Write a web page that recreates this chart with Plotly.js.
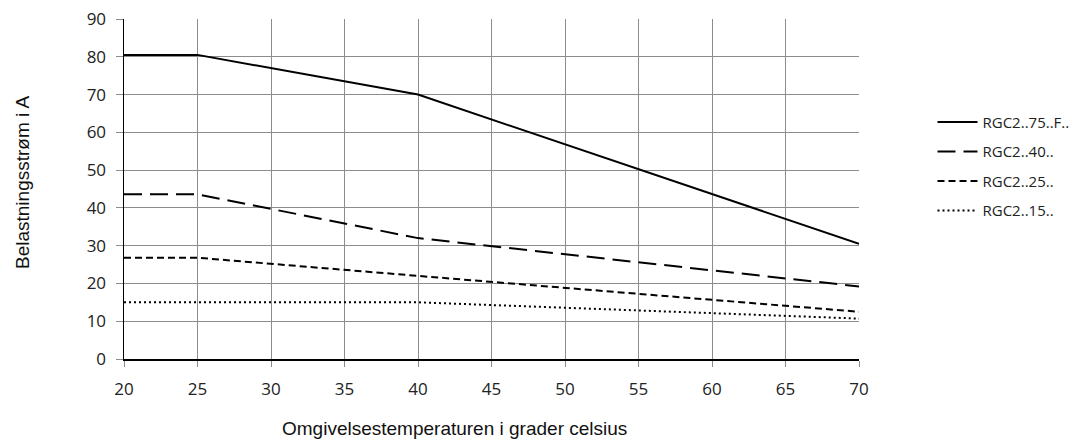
<!DOCTYPE html>
<html><head><meta charset="utf-8">
<script src="https://cdn.plot.ly/plotly-3.0.1.min.js"></script>
<style>html,body{margin:0;padding:0;background:#fff}#c{width:1075px;height:441px}</style>
</head><body><div id="c"></div>
<script>
const temps = [20, 25, 40, 70];
const rgc75 = [80.5, 80.5, 70, 30.5];
const rgc40 = [43.6, 43.6, 32, 19.2];
const rgc25 = [26.8, 26.8, 22, 12.5];
const rgc15 = [15, 15, 15, 10.7];
const names = ['RGC2..75..F..', 'RGC2..40..', 'RGC2..25..', 'RGC2..15..'];
const dashes = ['solid', '18px,8px', '7px,4px', '2px,3px'];
const series = [rgc75, rgc40, rgc25, rgc15];
const xTitle = 'Omgivelsestemperaturen i grader celsius';
const yTitle = 'Belastningsstrøm i A';

const traces = series.map((s, i) => ({
  x: temps, y: s, name: names[i], type: 'scatter', mode: 'lines',
  legendgroup: 'g' + i,
  line: {color: '#000', width: 2, dash: dashes[i]}
}));

const layout = {
  width: 1075, height: 441,
  margin: {l: 124, r: 216, t: 19, b: 82, autoexpand: false},
  paper_bgcolor: '#fff', plot_bgcolor: '#fff',
  showlegend: true,
  legend: {x: 1.1, y: 0.745, xanchor: 'left', yanchor: 'top',
    font: {family: 'Open Sans, sans-serif', size: 15, color: '#222'},
    tracegroupgap: 7, itemwidth: 40, bgcolor: 'rgba(0,0,0,0)'},
  xaxis: {range: [20, 70], dtick: 5, tick0: 20, showgrid: true, gridcolor: '#8c8c8c', gridwidth: 1,
    showline: true, linecolor: '#000', linewidth: 1.5, ticks: 'outside', ticklen: 6, tickcolor: '#8c8c8c',
    zeroline: false, ticklabelstandoff: 8,
    tickfont: {family: 'Open Sans, sans-serif', size: 17, color: '#222'}},
  yaxis: {range: [0, 90], dtick: 10, showgrid: true, gridcolor: '#8c8c8c', gridwidth: 1,
    showline: true, linecolor: '#000', linewidth: 1.5, ticks: 'outside', ticklen: 7, tickcolor: '#8c8c8c',
    zeroline: false, ticklabelstandoff: 6,
    tickfont: {family: 'Open Sans, sans-serif', size: 17, color: '#222'}},
  annotations: [
    {text: xTitle, xref: 'paper', yref: 'paper', x: 0.449, y: -0.205, xanchor: 'center', yanchor: 'middle',
      showarrow: false, font: {family: 'Liberation Sans, Arial, sans-serif', size: 19, color: '#111'}},
    {text: yTitle, xref: 'paper', yref: 'paper', x: -0.139, y: 0.52, xanchor: 'center', yanchor: 'middle',
      textangle: -90, showarrow: false, font: {family: 'Liberation Sans, Arial, sans-serif', size: 19, color: '#111'}}
  ]
};
Plotly.newPlot('c', traces, layout, {displayModeBar: false, staticPlot: true});
</script></body></html>
